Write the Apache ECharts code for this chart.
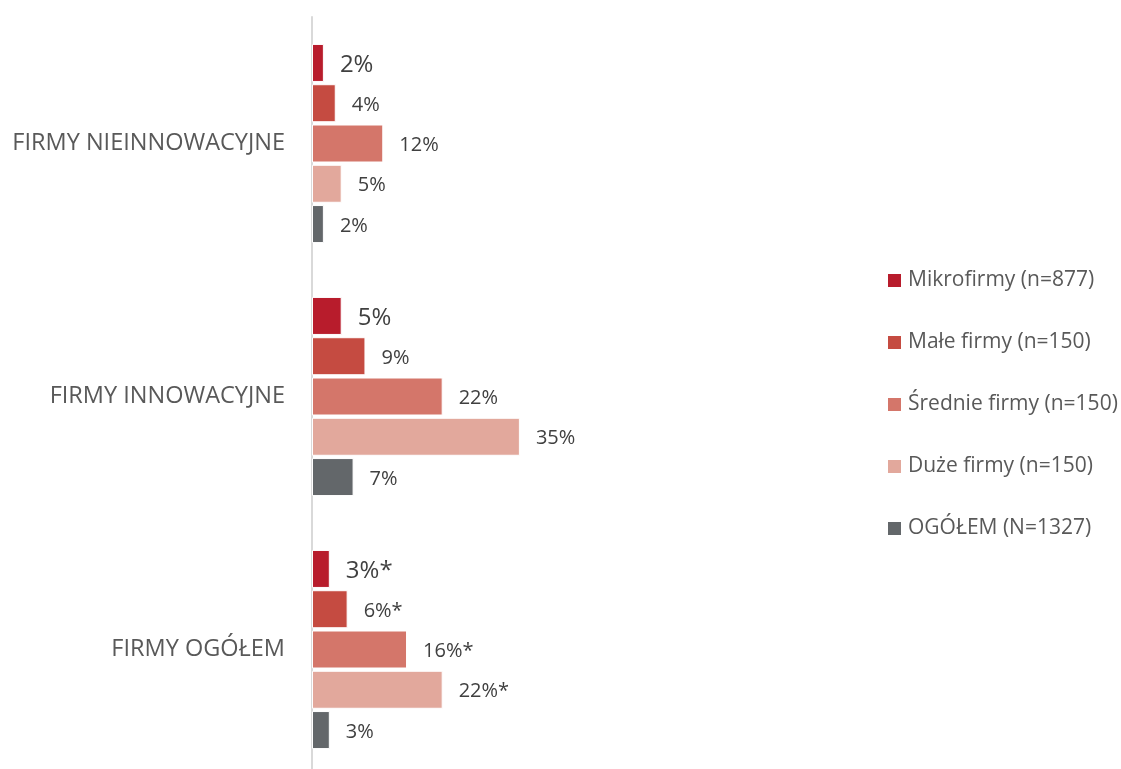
<!DOCTYPE html>
<html>
<head>
    <meta charset="utf-8">
    <title>Firmy innowacyjne i nieinnowacyjne</title>
    <script src="https://cdn.jsdelivr.net/npm/echarts@6/dist/echarts.min.js"></script>
    <style>
        html, body { margin: 0; padding: 0; background: #fff; overflow: hidden; }
    </style>
</head>
<body>
<div id="main" style="width: 1121px;height:780px;"></div>
<script type="text/javascript">
    // dane
    var categories = ['FIRMY NIEINNOWACYJNE', 'FIRMY INNOWACYJNE', 'FIRMY OGÓŁEM'];
    var seriesNames = ['Mikrofirmy (n=877)', 'Małe firmy (n=150)', 'Średnie firmy (n=150)', 'Duże firmy (n=150)', 'OGÓŁEM (N=1327)'];
    var mikro = [2, 5, 3];
    var male = [4, 9, 6];
    var srednie = [12, 22, 16];
    var duze = [5, 35, 22];
    var ogolem = [2, 7, 3];
    // gwiazdka przy wartościach dla FIRMY OGÓŁEM
    var starred = [[false, false, true], [false, false, true], [false, false, true], [false, false, true], [false, false, false]];

    var colors = ['#B81C2C', '#C54B41', '#D4766A', '#E2A89C', '#63676A'];
    var font = "'Open Sans', sans-serif";

    var myChart = echarts.init(document.getElementById('main'));

    function makeSeries(idx, values, labelSize) {
        return {
            name: seriesNames[idx],
            type: 'bar',
            data: values,
            barWidth: 38,
            barGap: '6%',
            itemStyle: {
                color: colors[idx],
                borderColor: '#ffffff',
                borderWidth: 1
            },
            label: {
                show: true,
                position: 'right',
                distance: 16,
                offset: [0, 2],
                fontFamily: font,
                fontSize: labelSize,
                color: '#404040',
                formatter: function (p) {
                    return p.value + '%' + (starred[idx][p.dataIndex] ? '*' : '');
                }
            },
            emphasis: { disabled: true }
        };
    }

    myChart.setOption({
        animation: false,
        textStyle: { fontFamily: font },
        legend: {
            orient: 'vertical',
            left: 883,
            top: 265,
            itemWidth: 13,
            itemHeight: 13,
            itemGap: 41,
            icon: 'rect',
            itemStyle: { borderWidth: 0 },
            textStyle: {
                fontFamily: font,
                fontSize: 21,
                color: '#595959',
                padding: [0, 0, 0, 2]
            },
            data: seriesNames
        },
        grid: {
            left: 312,
            top: 17,
            width: 594,
            height: 759,
            containLabel: false
        },
        xAxis: {
            type: 'value',
            min: 0,
            max: 100,
            show: false
        },
        yAxis: {
            type: 'category',
            data: categories,
            inverse: true,
            axisTick: { show: false },
            axisLine: { show: true, lineStyle: { color: '#D9D9D9', width: 2 } },
            axisLabel: {
                margin: 27,
                fontFamily: font,
                fontSize: 23.5,
                color: '#595959'
            }
        },
        series: [
            makeSeries(0, mikro, 24),
            makeSeries(1, male, 20),
            makeSeries(2, srednie, 20),
            makeSeries(3, duze, 20),
            makeSeries(4, ogolem, 20)
        ]
    });
</script>
</body>
</html>
